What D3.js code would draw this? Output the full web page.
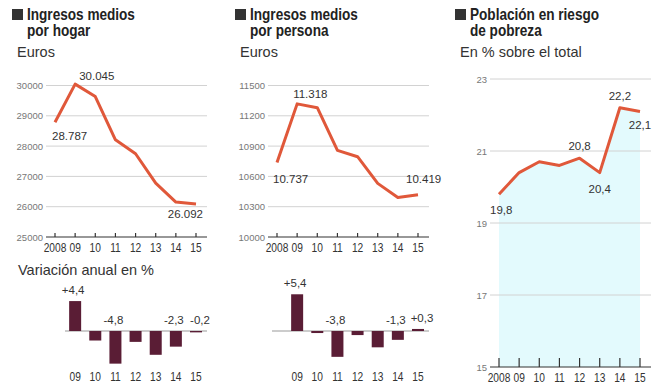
<!DOCTYPE html>
<html>
<head>
<meta charset="utf-8">
<script src="https://cdn.jsdelivr.net/npm/d3@7"></script>
<style>
  body { margin: 0; background: #fff; }
  svg { display: block; }
  .title { font-family: 'Liberation Sans', Arial, sans-serif; font-weight: bold; font-size: 16px; fill: #222; }
  .sub { font-family: 'Liberation Sans', Arial, sans-serif; font-size: 14.5px; fill: #333; }
  .tick-y { font-family: 'Liberation Sans', Arial, sans-serif; font-size: 9.5px; fill: #777; }
  .tick-x { font-family: 'Liberation Sans', Arial, sans-serif; font-size: 12px; fill: #333; }
  .val { font-family: 'Liberation Sans', Arial, sans-serif; font-size: 11.5px; fill: #333; }
</style>
</head>
<body>
<svg id="chart" width="664" height="392"></svg>
<script>
// Data
const years = ['2008', '09', '10', '11', '12', '13', '14', '15'];
const hogar = [28787, 30045, 29634, 28206, 27747, 26775, 26154, 26092];
const persona = [10737, 11318, 11280, 10858, 10795, 10531, 10391, 10419];
const pobreza = [19.8, 20.4, 20.7, 20.6, 20.8, 20.4, 22.2, 22.1];

const varYears = ['09', '10', '11', '12', '13', '14', '15'];
const varHogar = [4.4, -1.4, -4.8, -1.6, -3.5, -2.3, -0.2];
const varPersona = [5.4, -0.3, -3.8, -0.6, -2.4, -1.3, 0.3];

const hogarTicks = [25000, 26000, 27000, 28000, 29000, 30000];
const personaTicks = [10000, 10300, 10600, 10900, 11200, 11500];
const pobrezaTicks = [15, 17, 19, 21, 23];

const es = d3.formatLocale({ decimal: ',', thousands: '.', grouping: [3], currency: ['', '€'], minus: '-' });
const fmtInt = es.format(',d');
const fmtDec = es.format('.1f');
const fmtVar = v => (v > 0 ? '+' : '') + es.format('.1f')(v);

const LINE = '#e0583a';
const BAR = '#5a1d35';
const NARROW = 0.85; // squeeze factor to mimic the condensed face

const svg = d3.select('#chart');

// text drawn in a horizontally squeezed frame
function narrowText(sel, x, y) {
  return sel.attr('x', 0).attr('y', 0)
    .attr('transform', (d, i) => `translate(${x(d, i)},${y(d, i)}) scale(${NARROW},1)`);
}

function header(x, lines, sub) {
  const g = svg.append('g');
  g.append('rect').attr('x', x).attr('y', 9).attr('width', 11).attr('height', 11).attr('fill', '#333');
  g.selectAll('.title').data(lines).join('text')
    .attr('class', 'title')
    .call(narrowText, () => x + 15, (d, i) => 20 + i * 16)
    .text(d => d);
  g.append('text').attr('class', 'sub').attr('x', x + 5).attr('y', 57).text(sub);
}

// A line chart with gridlines, year axis and value labels
function linePanel(opts) {
  const g = svg.append('g');
  const x = d3.scalePoint().domain(years).range([opts.x0, opts.x0 + 141]);
  const y = d3.scaleLinear().domain(opts.domain).range(opts.range);
  const gx0 = opts.x0 - 9, gx1 = opts.x0 + 152;

  if (opts.area) {
    g.append('path')
      .datum(opts.values)
      .attr('fill', '#e3fafd')
      .attr('d', d3.area().x((d, i) => x(years[i])).y0(y(opts.domain[0])).y1(d => y(d)));
  }

  g.selectAll('.grid').data(opts.ticks.slice(1)).join('line')
    .attr('x1', gx0).attr('x2', gx1)
    .attr('y1', d => y(d)).attr('y2', d => y(d))
    .attr('stroke', '#d2d2d2').attr('stroke-width', 1);

  g.selectAll('.ty').data(opts.ticks).join('text')
    .attr('class', 'tick-y')
    .attr('x', gx0 - 3).attr('y', d => y(d) + 3.5)
    .attr('text-anchor', 'end')
    .text(d => d);

  // bottom axis with upward ticks
  const yb = y(opts.domain[0]);
  g.append('line').attr('x1', gx0).attr('x2', gx1).attr('y1', yb).attr('y2', yb)
    .attr('stroke', '#333').attr('stroke-width', 1.2);
  g.selectAll('.tk').data(years).join('line')
    .attr('x1', d => x(d)).attr('x2', d => x(d))
    .attr('y1', yb).attr('y2', yb - opts.tick)
    .attr('stroke', '#333').attr('stroke-width', 1.2);
  g.selectAll('.tx').data(years).join('text')
    .attr('class', 'tick-x')
    .attr('text-anchor', 'middle')
    .call(narrowText, d => x(d), () => yb + 15)
    .text(d => d);

  g.append('path')
    .datum(opts.values)
    .attr('fill', 'none')
    .attr('stroke', LINE).attr('stroke-width', 3)
    .attr('stroke-linejoin', 'round')
    .attr('d', d3.line().x((d, i) => x(years[i])).y(d => y(d)));

  opts.labels.forEach(l => {
    g.append('text').attr('class', 'val')
      .attr('x', x(years[l.i]) + l.dx)
      .attr('y', y(opts.values[l.i]) + l.dy)
      .attr('text-anchor', l.anchor)
      .text(opts.fmt(opts.values[l.i]));
  });
}

// Annual change bars; labels = which bars get a value, with a small nudge
function barPanel(x0, values, labels, lineX0) {
  const g = svg.append('g');
  const x = d3.scalePoint().domain(years).range([x0, x0 + 141]);
  const y = d3.scaleLinear().domain([-5, 5]).range([365, 297]);

  g.append('line').attr('x1', lineX0).attr('x2', x0 + 152)
    .attr('y1', y(0)).attr('y2', y(0))
    .attr('stroke', '#999').attr('stroke-width', 1);

  g.selectAll('rect').data(values).join('rect')
    .attr('x', (d, i) => x(varYears[i]) - 6)
    .attr('width', 12)
    .attr('y', d => y(Math.max(0, d)))
    .attr('height', d => Math.abs(y(d) - y(0)))
    .attr('fill', BAR);

  g.selectAll('.bl').data(labels).join('text')
    .attr('class', 'val')
    .attr('x', l => x(varYears[l.i]) + l.dx)
    .attr('y', l => y(Math.max(0, values[l.i])) - 7)
    .attr('text-anchor', 'middle')
    .text(l => fmtVar(values[l.i]));

  g.selectAll('.bx').data(varYears).join('text')
    .attr('class', 'tick-x')
    .attr('text-anchor', 'middle')
    .call(narrowText, d => x(d), () => 381)
    .text(d => d);
}

header(12, ['Ingresos medios', 'por hogar'], 'Euros');
header(235, ['Ingresos medios', 'por persona'], 'Euros');
header(455, ['Población en riesgo', 'de pobreza'], 'En % sobre el total');

linePanel({
  x0: 55, values: hogar, domain: [25000, 30000], range: [237, 85.5],
  ticks: hogarTicks, tick: 4, fmt: fmtInt,
  labels: [
    { i: 0, dx: -3, dy: 18, anchor: 'start' },
    { i: 1, dx: 4, dy: -4, anchor: 'start' },
    { i: 7, dx: 7, dy: 14, anchor: 'end' }
  ]
});

linePanel({
  x0: 277, values: persona, domain: [10000, 11500], range: [237, 85.5],
  ticks: personaTicks, tick: 4, fmt: fmtInt,
  labels: [
    { i: 0, dx: -4, dy: 20, anchor: 'start' },
    { i: 1, dx: -4, dy: -6, anchor: 'start' },
    { i: 7, dx: -12, dy: -12, anchor: 'start' }
  ]
});

linePanel({
  x0: 499, values: pobreza, domain: [15, 23], range: [367, 79],
  ticks: pobrezaTicks, tick: 9, fmt: fmtDec, area: true,
  labels: [
    { i: 0, dx: -9, dy: 20, anchor: 'start' },
    { i: 4, dx: 0, dy: -8, anchor: 'middle' },
    { i: 5, dx: 0, dy: 20, anchor: 'middle' },
    { i: 6, dx: 0, dy: -8, anchor: 'middle' },
    { i: 7, dx: 0, dy: 18, anchor: 'middle' }
  ]
});

svg.append('text').attr('class', 'sub').attr('x', 18).attr('y', 275).text('Variación anual en %');
const barLabels = [{ i: 0, dx: -2 }, { i: 2, dx: -2 }, { i: 5, dx: -2 }, { i: 6, dx: 4 }];
barPanel(55, varHogar, barLabels, 65);
barPanel(277, varPersona, barLabels, 272);
</script>
</body>
</html>
